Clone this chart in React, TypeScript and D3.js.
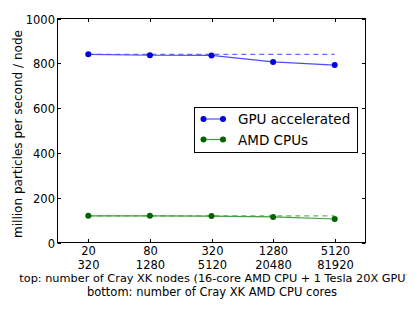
import React, { useEffect, useRef } from 'react';
import * as d3 from 'd3';

const topLabels = ['20', '80', '320', '1280', '5120'];
const bottomLabels = ['320', '1280', '5120', '20480', '81920'];
const gpuValues = [840, 836, 835, 806, 792];
const cpuValues = [119, 119, 118, 114, 105];
const gpuIdeal = [840, 840, 840, 840, 840];
const cpuIdeal = [119, 119, 119, 119, 119];
const yTicks = [0, 200, 400, 600, 800, 1000];

const W = 415;
const H = 312;
const font = 'DejaVu Sans, sans-serif';
const fs = 11.5;

function App() {
  const svgRef = useRef<SVGSVGElement>(null);

  useEffect(() => {
    const svg = d3.select(svgRef.current);
    svg.selectAll('*').remove();

    const left = 57.5, right = 365.5, top = 18.5, bottom = 242.5;
    const x = d3.scaleLinear().domain([-0.5, topLabels.length - 0.5]).range([left, right]);
    const y = d3.scaleLinear().domain([0, 1000]).range([bottom, top]);

    svg.append('rect').attr('width', W).attr('height', H).attr('fill', '#fff');

    const line = d3.line<number>().x((d, i) => x(i)).y(d => y(d));

    const series = [
      { vals: gpuValues, ideal: gpuIdeal, line: '#4d4dff', dash: '#6a6aff', dot: '#0000e0', name: 'GPU accelerated' },
      { vals: cpuValues, ideal: cpuIdeal, line: '#3f9f3f', dash: '#66b366', dot: '#006400', name: 'AMD CPUs' },
    ];

    series.forEach(s => {
      svg.append('path').datum(s.ideal).attr('d', line).attr('fill', 'none')
        .attr('stroke', s.dash).attr('stroke-width', 1.2).attr('stroke-dasharray', '5,4');
      svg.append('path').datum(s.vals).attr('d', line).attr('fill', 'none')
        .attr('stroke', s.line).attr('stroke-width', 1.2);
      svg.selectAll(null).data(s.vals).enter().append('circle')
        .attr('cx', (d, i) => x(i)).attr('cy', d => y(d)).attr('r', 3)
        .attr('fill', s.dot);
    });

    // frame
    svg.append('rect').attr('x', left).attr('y', top).attr('width', right - left).attr('height', bottom - top)
      .attr('fill', 'none').attr('stroke', '#000').attr('stroke-width', 1);

    // ticks (inward, all sides)
    const tl = 3.5;
    topLabels.forEach((t, i) => {
      const xx = Math.round(x(i)) + 0.5;
      svg.append('line').attr('x1', xx).attr('x2', xx).attr('y1', bottom).attr('y2', bottom - tl).attr('stroke', '#000');
      svg.append('line').attr('x1', xx).attr('x2', xx).attr('y1', top).attr('y2', top + tl).attr('stroke', '#000');
      svg.append('text').attr('x', xx).attr('y', bottom + 12.5).attr('text-anchor', 'middle')
        .attr('font-family', font).attr('font-size', fs).text(t);
      svg.append('text').attr('x', xx).attr('y', bottom + 26).attr('text-anchor', 'middle')
        .attr('font-family', font).attr('font-size', fs).text(bottomLabels[i]);
    });
    yTicks.forEach(t => {
      const yy = Math.round(y(t)) + 0.5;
      svg.append('line').attr('x1', left).attr('x2', left + tl).attr('y1', yy).attr('y2', yy).attr('stroke', '#000');
      svg.append('line').attr('x1', right).attr('x2', right - tl).attr('y1', yy).attr('y2', yy).attr('stroke', '#000');
      svg.append('text').attr('x', left - 2.5).attr('y', yy + 4).attr('text-anchor', 'end')
        .attr('font-family', font).attr('font-size', fs).text(t);
    });

    // axis labels
    svg.append('text').attr('transform', 'translate(22,238) rotate(-90)')
      .attr('font-family', font).attr('font-size', fs)
      .attr('textLength', 208).attr('lengthAdjust', 'spacingAndGlyphs')
      .text('million particles per second / node');
    svg.append('text').attr('x', 410).attr('y', 282).attr('text-anchor', 'end')
      .attr('font-family', font).attr('font-size', 11.3)
      .text('top: number of Cray XK nodes (16-core AMD CPU + 1 Tesla 20X GPU)');
    svg.append('text').attr('x', 87).attr('y', 295.5)
      .attr('font-family', font).attr('font-size', fs)
      .attr('textLength', 250).attr('lengthAdjust', 'spacingAndGlyphs')
      .text('bottom: number of Cray XK AMD CPU cores');

    // legend
    const lg = svg.append('g');
    lg.append('rect').attr('x', 194.5).attr('y', 107.5).attr('width', 163).attr('height', 45)
      .attr('fill', '#fff').attr('stroke', '#000');
    series.forEach((s, i) => {
      const ly = 119 + i * 20.5;
      lg.append('line').attr('x1', 203.5).attr('x2', 223).attr('y1', ly).attr('y2', ly)
        .attr('stroke', s.line).attr('stroke-width', 1.2);
      [203.5, 223].forEach(cx => lg.append('circle').attr('cx', cx).attr('cy', ly).attr('r', 3).attr('fill', s.dot));
      lg.append('text').attr('x', 238).attr('y', ly + 5).attr('font-family', font).attr('font-size', 13.5).text(s.name);
    });
  }, []);

  return <svg ref={svgRef} width={W} height={H} style={{ display: 'block', margin: -8 }} />;
}

export default App;
